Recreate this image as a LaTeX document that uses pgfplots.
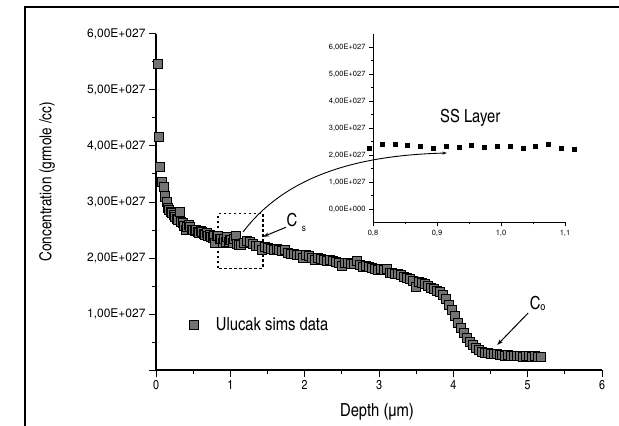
\documentclass[border=0pt]{standalone}
\usepackage{fontspec}
\setmainfont{TeX Gyre Heros}
\newfontfamily\cn{TeX Gyre Heros Cn}
\usepackage{pgfplots}
\pgfplotsset{compat=1.18}
\usetikzlibrary{arrows.meta}

\begin{document}
\begin{tikzpicture}[x=1pt,y=1pt]
\useasboundingbox (0,0) rectangle (619,426);
\draw[line width=1.5pt] (25,0) -- (25,419) -- (619,419);

\begin{axis}[
  at={(156pt,56pt)}, anchor=south west,
  scale only axis, width=446pt, height=336pt,
  xmin=0, xmax=6, ymin=0, ymax=6,
  axis x line*=bottom, axis y line*=left,
  axis line style={line width=1.4pt},
  tick align=outside,
  major tick length=7pt, minor tick length=4pt,
  every tick/.style={black, line width=1pt},
  xtick={0,1,2,3,4,5,6}, xticklabels={0,1,2,3,4,5,6},
  minor x tick num=1,
  ytick={0,1,2,3,4,5,6},
  yticklabels={{},{1,00E+027},{2,00E+027},{3,00E+027},{4,00E+027},{5,00E+027},{6,00E+027}},
  minor y tick num=1,
  yticklabel style={font=\fontsize{12}{14}\selectfont},
  xticklabel style={font=\cn\fontsize{13}{15}\selectfont},
  xlabel={Depth (µm)}, ylabel={Concentration (grmole /cc)},
  every axis x label/.style={at={(rel axis cs:0.4955,-0.125)},anchor=center,font=\cn\fontsize{18}{20}\selectfont},
  every axis y label/.style={at={(rel axis cs:-0.244,0.56)},rotate=90,anchor=center,font=\cn\fontsize{16.5}{18}\selectfont},
  clip=false,
  legend style={at={(axis cs:0.40,0.80)}, anchor=west, draw=none, fill=none,
    font=\cn\fontsize{18}{20}\selectfont,
    /tikz/every odd column/.append style={column sep=16pt}},
]
\addplot[only marks, mark=square*, mark size=4.5pt, mark options={fill=black!55, draw=black, line width=0.8pt}] coordinates {
(0.02,5.46) (0.04,4.17) (0.05,3.63) (0.08,3.36) (0.10,3.27) (0.12,3.10) (0.14,3.00)
(0.16,2.89) (0.18,2.86) (0.20,2.83) (0.22,2.80) (0.24,2.77) (0.26,2.74) (0.28,2.70)
(0.30,2.68) (0.32,2.83) (0.34,2.65) (0.36,2.62) (0.38,2.58) (0.40,2.50) (0.42,2.55)
(0.44,2.60) (0.46,2.55) (0.48,2.50) (0.50,2.50) (0.52,2.48) (0.54,2.50) (0.56,2.47)
(0.58,2.45) (0.60,2.49) (0.62,2.46) (0.64,2.43) (0.66,2.41) (0.68,2.44) (0.70,2.40)
(0.72,2.41) (0.74,2.38) (0.76,2.36) (0.78,2.40)
(0.794,2.27) (0.814,2.40) (0.834,2.40) (0.854,2.35) (0.874,2.34) (0.894,2.27)
(0.914,2.34) (0.934,2.29) (0.954,2.37) (0.974,2.29) (0.994,2.32) (1.014,2.32)
(1.034,2.27) (1.054,2.34) (1.074,2.40) (1.094,2.25) (1.114,2.23)
(1.14,2.23) (1.18,2.27) (1.22,2.30) (1.26,2.28) (1.30,2.25) (1.34,2.22) (1.38,2.21)
(1.42,2.14) (1.46,2.20) (1.50,2.18) (1.54,2.16) (1.58,2.14) (1.62,2.17) (1.66,2.14)
(1.70,2.12) (1.74,2.15) (1.78,2.09) (1.82,2.07) (1.86,2.08) (1.90,2.06) (1.94,2.05)
(1.98,2.01) (2.02,2.05) (2.06,2.03) (2.10,2.00) (2.14,1.97) (2.18,2.00) (2.22,1.98)
(2.26,1.96) (2.30,1.95) (2.34,1.97) (2.38,1.94) (2.42,1.93) (2.46,1.92) (2.50,1.86)
(2.54,1.91) (2.58,1.92) (2.62,1.90) (2.66,1.89) (2.70,1.94) (2.74,1.88) (2.78,1.85)
(2.82,1.86) (2.86,1.84) (2.90,1.83) (2.94,1.81) (2.98,1.79) (3.02,1.80) (3.06,1.78)
(3.10,1.81) (3.14,1.74) (3.18,1.73) (3.22,1.72) (3.26,1.71) (3.30,1.69) (3.34,1.67)
(3.38,1.65) (3.42,1.63) (3.46,1.60) (3.50,1.49) (3.54,1.58) (3.58,1.55) (3.62,1.53)
(3.66,1.50) (3.70,1.47) (3.74,1.44) (3.78,1.42) (3.82,1.39) (3.86,1.34) (3.90,1.27)
(3.94,1.17) (3.98,1.07) (4.02,0.96) (4.06,0.85) (4.10,0.75) (4.14,0.66) (4.18,0.58)
(4.22,0.51) (4.26,0.45) (4.30,0.40) (4.34,0.36) (4.38,0.33) (4.42,0.31) (4.46,0.30)
(4.50,0.29) (4.54,0.28) (4.58,0.28) (4.62,0.27) (4.66,0.27) (4.70,0.26) (4.74,0.27)
(4.78,0.25) (4.82,0.26) (4.86,0.25) (4.90,0.25) (4.94,0.24) (4.98,0.26) (5.02,0.25)
(5.06,0.24) (5.10,0.25) (5.14,0.23) (5.18,0.24)
};
\addlegendentry{Ulucak sims data}
% dashed zoom box
\draw[line width=1.1pt, dash pattern=on 2.5pt off 2.5pt] (axis cs:0.834,1.82) rectangle (axis cs:1.44,2.79);
% curved arrow to inset
\draw[line width=0.9pt, -{Stealth[length=5pt,width=3pt]}] (axis cs:1.171,2.464) .. controls (axis cs:1.80,3.57) and (axis cs:2.88,3.84) .. (axis cs:3.917,3.875);
% Cs annotation
\draw[line width=1pt, -{Stealth[length=6pt,width=4pt]}] (axis cs:1.75,2.55) -- (axis cs:1.44,2.38);
\node[font=\cn\fontsize{18}{20}\selectfont] at (axis cs:1.83,2.68) {C};
\node[font=\cn\fontsize{10}{11}\selectfont] at (axis cs:1.99,2.52) {s};
% Co annotation
\draw[line width=1pt, -{Stealth[length=6pt,width=4pt]}] (axis cs:5.007,1.018) -- (axis cs:4.59,0.446);
\node[font=\cn\fontsize{18}{20}\selectfont] at (axis cs:5.10,1.20) {C};
\node[font=\cn\fontsize{11}{12}\selectfont] at (axis cs:5.205,1.12) {o};
\end{axis}

\begin{axis}[
  at={(373pt,203.5pt)}, anchor=south west,
  scale only axis, width=192pt, height=189pt,
  xmin=0.8, xmax=1.1, ymin=-0.5, ymax=6.5,
  axis x line*=bottom, axis y line*=left,
  axis line style={line width=1pt},
  tick align=outside,
  major tick length=4pt, minor tick length=2pt,
  every tick/.style={black, line width=0.7pt},
  xtick={0.8,0.9,1.0,1.1}, xticklabels={{0,8},{0,9},{1,0},{1,1}},
  minor x tick num=1,
  ytick={0,1,2,3,4,5,6},
  yticklabels={{0,00E+000},{1,00E+027},{2,00E+027},{3,00E+027},{4,00E+027},{5,00E+027},{6,00E+027}},
  minor y tick num=1,
  tick label style={font=\fontsize{7.5}{8}\selectfont},
  clip=false,
]
\addplot[only marks, mark=square*, mark size=2pt, mark options={fill=black, draw=black}] coordinates {
(0.794,2.27) (0.814,2.40) (0.834,2.40) (0.854,2.35) (0.874,2.34) (0.894,2.27)
(0.914,2.34) (0.934,2.29) (0.954,2.37) (0.974,2.29) (0.994,2.32) (1.014,2.32)
(1.034,2.27) (1.054,2.34) (1.074,2.40) (1.094,2.25) (1.114,2.23)
};
\node[font=\cn\fontsize{18}{20}\selectfont] at (axis cs:0.952,3.37) {SS Layer};
\end{axis}
\end{tikzpicture}
\end{document}
